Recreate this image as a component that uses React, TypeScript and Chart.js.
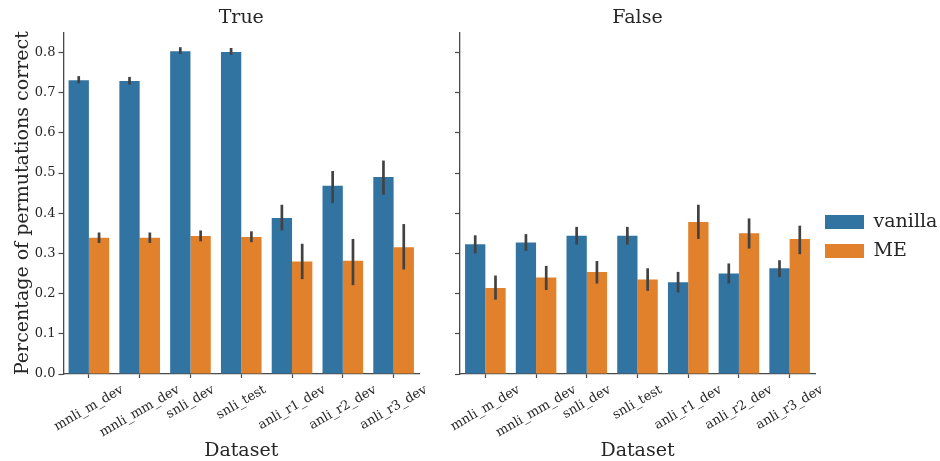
import React, { useEffect, useRef } from "react";
import { Chart, registerables } from "chart.js";

Chart.register(...registerables);

const categories = ["mnli_m_dev", "mnli_mm_dev", "snli_dev", "snli_test", "anli_r1_dev", "anli_r2_dev", "anli_r3_dev"];
const seriesNames = ["vanilla", "ME"];
const panelTitles = ["True", "False"];
const yTickValues = [0, 0.1, 0.2, 0.3, 0.4, 0.5, 0.6, 0.7, 0.8];

const trueVanilla = [0.731, 0.729, 0.803, 0.801, 0.388, 0.468, 0.490];
const trueVanillaLow = [0.723, 0.720, 0.796, 0.794, 0.357, 0.425, 0.446];
const trueVanillaHigh = [0.741, 0.739, 0.813, 0.811, 0.421, 0.505, 0.531];
const trueME = [0.339, 0.339, 0.343, 0.341, 0.280, 0.282, 0.315];
const trueMELow = [0.326, 0.326, 0.330, 0.328, 0.236, 0.221, 0.260];
const trueMEHigh = [0.352, 0.352, 0.357, 0.355, 0.324, 0.336, 0.373];

const falseVanilla = [0.323, 0.327, 0.344, 0.344, 0.228, 0.250, 0.263];
const falseVanillaLow = [0.300, 0.306, 0.322, 0.322, 0.203, 0.225, 0.241];
const falseVanillaHigh = [0.345, 0.348, 0.366, 0.366, 0.254, 0.275, 0.283];
const falseME = [0.214, 0.240, 0.254, 0.235, 0.378, 0.350, 0.336];
const falseMELow = [0.185, 0.209, 0.225, 0.207, 0.336, 0.312, 0.298];
const falseMEHigh = [0.245, 0.269, 0.281, 0.263, 0.421, 0.387, 0.369];

const BLUE = "#3274a1";
const ORANGE = "#e1812c";
const INK = "#262626";
const AXIS = "#4a4a4a";
const FONT = "'DejaVu Serif', serif";

const errorBarPlugin = {
  id: "errorBars",
  afterDatasetsDraw(chart: any) {
    const ctx = chart.ctx;
    const y = chart.scales.y;
    ctx.save();
    ctx.strokeStyle = "#424242";
    ctx.lineWidth = 2.7;
    ctx.lineCap = "butt";
    chart.data.datasets.forEach((ds: any, di: number) => {
      const meta = chart.getDatasetMeta(di);
      meta.data.forEach((bar: any, i: number) => {
        const lo = ds.errLow[i];
        const hi = ds.errHigh[i];
        ctx.beginPath();
        ctx.moveTo(bar.x, y.getPixelForValue(lo));
        ctx.lineTo(bar.x, y.getPixelForValue(hi));
        ctx.stroke();
      });
    });
    ctx.restore();
  },
};

const rotatedLabelsPlugin = {
  id: "rotatedLabels",
  afterDraw(chart: any) {
    const ctx = chart.ctx;
    const xs = chart.scales.x;
    const ang = (30 * Math.PI) / 180;
    ctx.save();
    ctx.font = `13px ${FONT}`;
    ctx.fillStyle = INK;
    ctx.textAlign = "center";
    ctx.textBaseline = "middle";
    (chart.data.labels as string[]).forEach((lab, i) => {
      const x = xs.getPixelForTick(i);
      const w = ctx.measureText(lab).width;
      const h = 9;
      const bboxH = w * Math.sin(ang) + h * Math.cos(ang);
      const cy = xs.top + 11 + bboxH / 2;
      ctx.save();
      ctx.translate(x, cy);
      ctx.rotate(-ang);
      ctx.fillText(lab, 0, 0);
      ctx.restore();
    });
    ctx.restore();
  },
};

function makeConfig(panel: number) {
  const isLeft = panel === 0;
  const v = isLeft ? trueVanilla : falseVanilla;
  const vLo = isLeft ? trueVanillaLow : falseVanillaLow;
  const vHi = isLeft ? trueVanillaHigh : falseVanillaHigh;
  const m = isLeft ? trueME : falseME;
  const mLo = isLeft ? trueMELow : falseMELow;
  const mHi = isLeft ? trueMEHigh : falseMEHigh;
  return {
    type: "bar",
    data: {
      labels: categories,
      datasets: [
        { label: seriesNames[0], data: v, errLow: vLo, errHigh: vHi, backgroundColor: BLUE, borderWidth: 0 },
        { label: seriesNames[1], data: m, errLow: mLo, errHigh: mHi, backgroundColor: ORANGE, borderWidth: 0 },
      ],
    },
    options: {
      animation: false,
      responsive: false,
      maintainAspectRatio: false,
      datasets: { bar: { categoryPercentage: 0.8, barPercentage: 1.0 } },
      layout: { padding: { left: 0, right: isLeft ? 21 : 0, top: 0, bottom: 0 } },
      plugins: {
        tooltip: { enabled: false },
        title: {
          display: true,
          fullSize: false,
          text: panelTitles[panel],
          color: INK,
          font: { family: FONT, size: 19, weight: "normal", lineHeight: 1.2 },
          padding: { top: 7, bottom: 2.5 },
        },
        legend: isLeft
          ? { display: false }
          : {
              display: true,
              position: "right",
              align: "center",
              title: { display: true, text: " ", font: { size: 10, lineHeight: 1.2 }, padding: 0 },
              labels: {
                boxWidth: 39,
                boxHeight: 14,
                color: INK,
                padding: 10,
                font: { family: FONT, size: 19 },
              },
            },
      },
      scales: {
        x: {
          type: "category",
          offset: true,
          grid: { display: true, drawOnChartArea: false, offset: false, drawTicks: true, tickLength: 4, color: AXIS, tickWidth: 1.2 },
          border: { display: true, color: AXIS, width: 1.3 },
          ticks: { callback: () => "", maxRotation: 0, minRotation: 0, autoSkip: false },
          title: {
            display: true,
            text: "Dataset",
            color: INK,
            font: { family: FONT, size: 19, lineHeight: 1 },
            padding: { top: 0, bottom: 0 },
          },
          afterFit: (scale: any) => {
            scale.height = 87;
          },
        },
        y: {
          min: 0,
          max: 0.85,
          afterBuildTicks: (scale: any) => {
            scale.ticks = yTickValues.map((value) => ({ value }));
          },
          grid: { display: true, drawOnChartArea: false, drawTicks: true, tickLength: 5, color: AXIS, tickWidth: 1.2 },
          border: { display: true, color: AXIS, width: 1.3 },
          ticks: {
            includeBounds: false,
            padding: 3,
            color: INK,
            font: { family: FONT, size: 13 },
            callback: (val: any) => (isLeft ? Number(val).toFixed(1) : ""),
          },
          title: isLeft
            ? {
                display: true,
                text: "Percentage of permutations correct",
                color: INK,
                font: { family: FONT, size: 19, lineHeight: 1.2 },
                padding: { top: 12, bottom: 0 },
              }
            : { display: false },
          afterFit: (scale: any) => {
            scale.width = isLeft ? 63.5 : 20;
          },
        },
      },
    },
    plugins: [errorBarPlugin, rotatedLabelsPlugin],
  } as any;
}

export default function App() {
  const leftRef = useRef<HTMLCanvasElement>(null);
  const rightRef = useRef<HTMLCanvasElement>(null);

  useEffect(() => {
    const c1 = new Chart(leftRef.current as HTMLCanvasElement, makeConfig(0));
    const c2 = new Chart(rightRef.current as HTMLCanvasElement, makeConfig(1));
    return () => {
      c1.destroy();
      c2.destroy();
    };
  }, []);

  return (
    <div style={{ position: "fixed", left: 0, top: 0, width: 940, height: 461, background: "#fff" }}>
      <canvas ref={leftRef} width={440} height={461} style={{ position: "absolute", left: 0, top: 0, width: 440, height: 461 }} />
      <canvas ref={rightRef} width={500} height={461} style={{ position: "absolute", left: 440, top: 0, width: 500, height: 461 }} />
    </div>
  );
}
